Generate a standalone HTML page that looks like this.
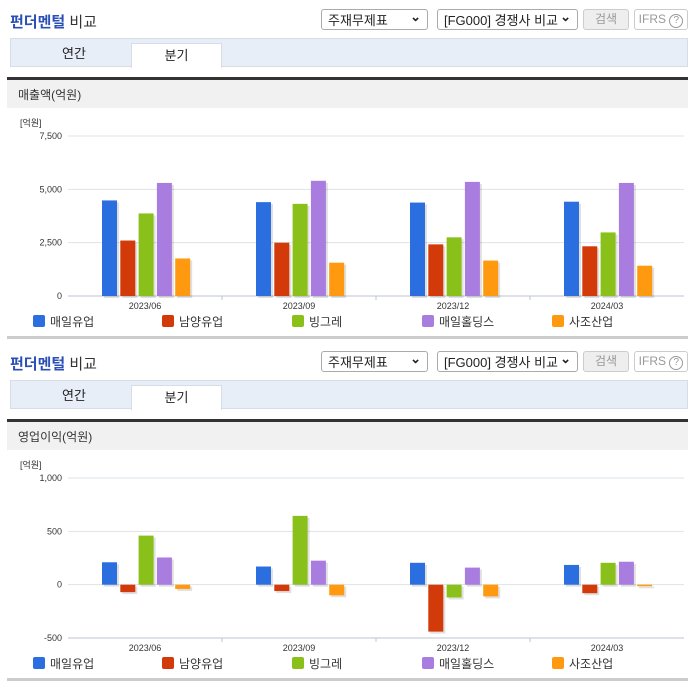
<!DOCTYPE html>
<html><head><meta charset="utf-8"><style>
body{margin:0;width:696px;height:684px;background:#fff;font-family:"Liberation Sans","Noto Sans CJK KR",sans-serif;position:relative;overflow:hidden}
.abs{position:absolute}
.title{left:10px;font-size:15px;font-weight:bold;color:#2b50b5}
.title span{color:#333;font-weight:normal}
.sel{border:1px solid #aaa;border-radius:3px;height:21px;font-size:13px;color:#222;line-height:21px;padding-left:6px;box-sizing:border-box;background:#fff}
.sel:after{content:"⌄";position:absolute;right:6px;top:-4px;font-weight:bold}
.btn{border:1px solid #ccc;border-radius:3px;height:21px;font-size:12px;color:#999;text-align:center;line-height:19px;box-sizing:border-box}
.tabbar{left:10px;width:678px;height:29px;background:#e8eef8;border:1px solid #d7dde6;box-sizing:border-box}
.tab{font-size:13px;color:#222;text-align:center;line-height:24px}
.band{left:7px;width:681px;height:31px;background:#f1f1f1;border-top:3px solid #333;font-size:12px;color:#333;line-height:31px;padding-left:11px;box-sizing:border-box}
svg text{font-family:"Liberation Sans","Noto Sans CJK KR",sans-serif}
</style></head><body>
<div id="root"></div>
<script>
const categories=["2023/06","2023/09","2023/12","2024/03"];
const seriesNames=["매일유업","남양유업","빙그레","매일홀딩스","사조산업"];
const colors=["#2a6ee0","#d23a0a","#8ac01a","#a97de0","#ff9a10"];
const salesMaeil=[4480,4400,4380,4420];
const salesNamyang=[2600,2500,2420,2330];
const salesBing=[3870,4320,2750,2980];
const salesHoldings=[5300,5400,5350,5300];
const salesSajo=[1760,1560,1660,1420];
const salesTicks=[0,2500,5000,7500];
const salesTickLabels=["0","2,500","5,000","7,500"];
const opMaeil=[210,170,205,185];
const opNamyang=[-70,-60,-440,-80];
const opBing=[460,645,-120,205];
const opHoldings=[255,225,160,215];
const opSajo=[-40,-100,-110,-15];
const opTicks=[-500,0,500,1000];
const opTickLabels=["-500","0","500","1,000"];

const root=document.getElementById('root');
function mk(tag,cls,css,html){const e=document.createElement(tag);if(cls)e.className=cls;e.style.cssText=css;if(html!=null)e.innerHTML=html;root.appendChild(e);return e;}
const NS="http://www.w3.org/2000/svg";
function sv(tag,attrs,parent){const e=document.createElementNS(NS,tag);for(const k in attrs)e.setAttribute(k,attrs[k]);parent.appendChild(e);return e;}

function section(off,label,series,ticks,tickLabels,ymin,ymax,yTop,yBot){
  let e;
  e=mk('div','abs title',`top:${off+11}px`,'펀더멘털 <span>비교</span>');
  
  e=mk('div','abs sel',`left:321px;top:${off+9}px;width:107px`,'주재무제표');
  
  e=mk('div','abs sel',`left:437px;top:${off+9}px;width:141px`,'[FG000] 경쟁사 비교');
  
  e=mk('div','abs btn',`left:583px;top:${off+9}px;width:46px;background:#eee`,'검색');
  
  e=mk('div','abs btn',`left:634px;top:${off+9}px;width:54px;background:#fff`,'IFRS ⓘ');
  e.innerHTML='IFRS <span style="border:1px solid #999;border-radius:50%;display:inline-block;width:12px;height:12px;line-height:12px;font-size:10px">?</span>';
  
  e=mk('div','abs tabbar',`top:${off+38}px`);
  
  e=mk('div','abs tab',`left:24px;top:${off+42}px;width:100px`,'연간');
  
  e=mk('div','abs tab',`left:131px;top:${off+43}px;width:91px;height:25px;background:#fff;border:1px solid #d7dde6;border-bottom:none;box-sizing:border-box`,'분기');
  
  e=mk('div','abs band',`top:${off+77}px`,label);
  
  e=mk('div','abs','',''); root.removeChild(e);
  const svg=document.createElementNS(NS,'svg');
  svg.setAttribute('width',696);svg.setAttribute('height',240);
  svg.style.cssText=`position:absolute;left:0;top:${off+110}px`;
  
  root.appendChild(svg);
  const X0=68,X1=684;
  const y=v=>yBot-(v-ymin)/(ymax-ymin)*(yBot-yTop);
  const t=sv('text',{x:20,y:16,'font-size':9,fill:'#333'},svg);t.textContent='[억원]';
  
  ticks.forEach((v,i)=>{
    const l=sv('line',{x1:X0,x2:X1,y1:y(v),y2:y(v),stroke:i==0?'#bcc6d2':'#dde3ea'},svg);
    
    const tx=sv('text',{x:62,y:y(v)+3,'font-size':9,fill:'#333','text-anchor':'end'},svg);
    tx.textContent=tickLabels[i];
    
  });
  const base=sv('line',{x1:X0,x2:X1,y1:yBot,y2:yBot,stroke:'#bcc6d2'},svg);
  const cw=(X1-X0)/categories.length;
  categories.forEach((c,ci)=>{
    const cx=X0+cw*(ci+0.5);
    if(ci>0){sv('line',{x1:X0+cw*ci,x2:X0+cw*ci,y1:yBot,y2:yBot+4,stroke:'#bcc6d2'},svg);}
    const tx=sv('text',{x:cx,y:yBot+13,'font-size':9,fill:'#333','text-anchor':'middle'},svg);
    tx.textContent=c;
    
    series.forEach((s,si)=>{
      const v=s[ci];const bx=cx-43+si*18.3;
      const y0=y(0),yv=y(v);
      const top=Math.min(y0,yv),h=Math.abs(y0-yv);
      sv('rect',{x:bx+2,y:top+2,width:15,height:h,fill:'#000','fill-opacity':0.12},svg);
      const r=sv('rect',{x:bx,y:top,width:15,height:h,fill:colors[si]},svg);
      
    });
  });
  const legX=[33,162,292,422,552];
  seriesNames.forEach((n,i)=>{
    const g=sv('g',{},svg);
    
    sv('rect',{x:legX[i],y:yBot+19,width:12,height:12,rx:2,fill:colors[i]},g);
    const tx=sv('text',{x:legX[i]+17,y:yBot+30,'font-size':12,fill:'#333'},g);tx.textContent=n;
  });
  e=mk('div','abs',`left:7px;top:${off+336}px;width:681px;height:3px;background:#ccc`);
  
}
section(0,'매출액(억원)',[salesMaeil,salesNamyang,salesBing,salesHoldings,salesSajo],salesTicks,salesTickLabels,0,7500,26,186);
section(342,'영업이익(억원)',[opMaeil,opNamyang,opBing,opHoldings,opSajo],opTicks,opTickLabels,-500,1000,26,186);
</script>
</body></html>
